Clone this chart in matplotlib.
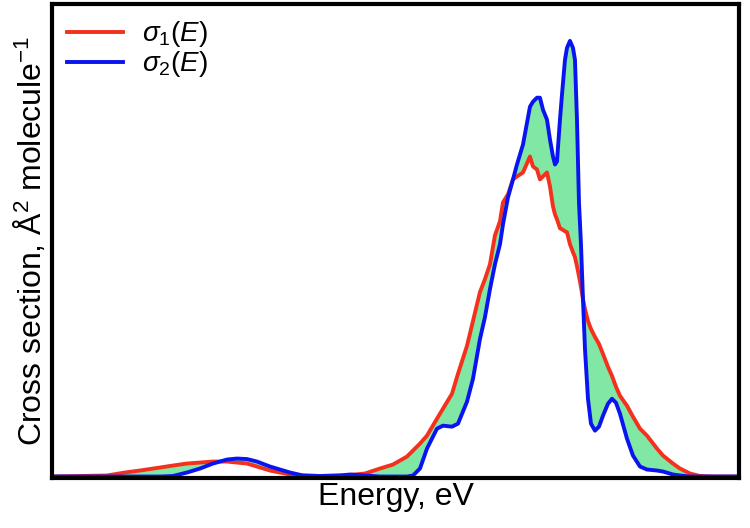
import numpy as np
from matplotlib import pyplot as plt

plt.rcParams['font.family'] = ['Liberation Sans', 'DejaVu Sans']
plt.rcParams['mathtext.fontset'] = 'custom'
plt.rcParams['mathtext.rm'] = 'Liberation Sans'
plt.rcParams['mathtext.it'] = 'Liberation Sans:italic'

# energy grid (arbitrary units, no ticks on the original)
energy = np.array([0, 28, 55, 73, 88, 108, 121, 135, 148, 161, 175, 185, 195,
                   205, 218, 228, 238, 251, 268, 288, 298, 313, 328, 341, 355,
                   361, 368, 375, 385, 391, 400, 406, 415, 421, 428, 433, 438,
                   443, 448, 451, 456, 461, 465, 471, 478, 481, 485, 488, 491,
                   495, 498, 501, 503, 505, 508, 510, 513, 515, 518, 521, 523,
                   525, 527, 529, 531, 533, 536, 539, 543, 547, 551, 556, 560,
                   564, 568, 575, 581, 588, 595, 605, 611, 621, 628, 638, 648,
                   661, 687])

# sigma_1(E)
sigma1 = np.array([0, 0.5, 1, 4, 6, 9, 11, 13, 14, 15, 15, 14, 13,
                   10, 6, 4, 2, 1, 0.5, 1, 1.5, 3, 8, 12, 20,
                   26, 33, 41, 58, 68, 83, 103, 131, 156, 185, 198, 213,
                   242, 256, 275, 283, 298, 301, 305, 321, 311, 308, 298, 301,
                   305, 291, 271, 263, 258, 249, 248, 246, 245, 233, 225, 220,
                   211, 201, 190, 178, 168, 156, 148, 140, 133, 123, 110, 101,
                   90, 81, 71, 60, 48, 41, 28, 21, 13, 8, 3, 0.5,
                   0, 0])

# sigma_2(E)
sigma2 = np.array([0, 0, 0, 0, 0, 0, 0.5, 4, 8, 13, 17, 18, 17.5,
                   15, 10, 7, 4, 1, 0.5, 1, 2, 1, 0, 0, 0,
                   1, 8, 28, 48, 51, 50, 53, 75, 98, 138, 160, 188,
                   213, 233, 253, 280, 298, 313, 333, 371, 376, 380, 380, 368,
                   358, 338, 321, 313, 316, 358, 383, 418, 430, 437, 430, 418,
                   358, 275, 233, 178, 128, 78, 53, 46, 50, 61, 73, 78,
                   74, 63, 38, 21, 10, 7, 6, 5, 2, 1, 0, 0,
                   0, 0])

fig = plt.figure(figsize=(7.5, 5.28), dpi=100)
ax = fig.add_axes([0.0693, 0.0947, 0.916, 0.8977])

ax.fill_between(energy, sigma1, sigma2, color='#80e8a4', lw=0)
ax.plot(energy, sigma1, color='#f5301c', lw=2.8, label=r'$\mathit{\sigma_1(E)}$',
        solid_joinstyle='round')
ax.plot(energy, sigma2, color='#0a14f0', lw=2.8, label=r'$\mathit{\sigma_2(E)}$',
        solid_joinstyle='round')

ax.set_xlim(0, 687)
ax.set_ylim(-1.5, 474)
ax.set_xticks([])
ax.set_yticks([])
for s in ax.spines.values():
    s.set_linewidth(3)

ax.set_xlabel('Energy, eV', fontsize=23, labelpad=3)
ax.set_ylabel(r'Cross section, Å$^2$ molecule$^{-1}$', fontsize=23, labelpad=3)

ax.legend(loc='upper left', frameon=False, fontsize=20, handlelength=2.0,
          handletextpad=0.7, labelspacing=0.0, borderaxespad=0.25,
          borderpad=0.3)

plt.savefig('out.png')
